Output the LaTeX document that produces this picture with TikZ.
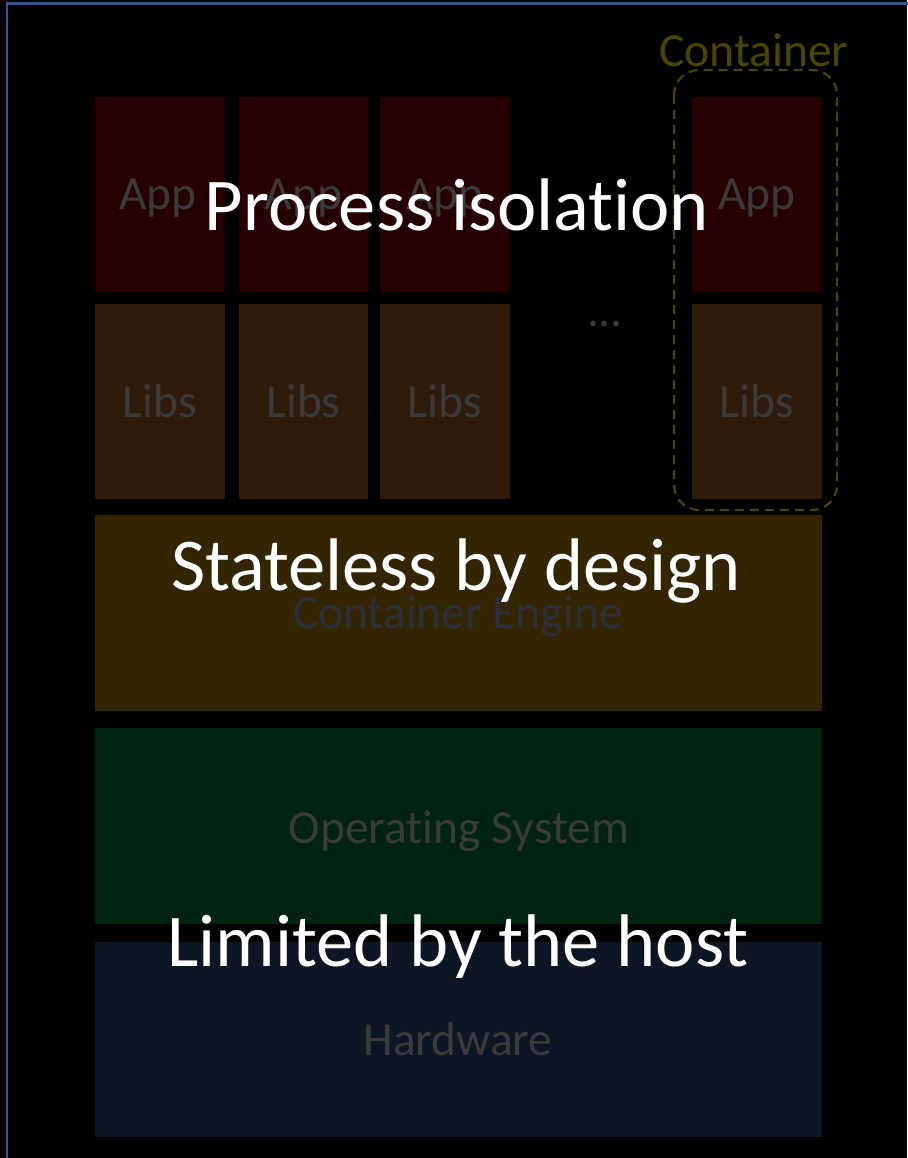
\documentclass[tikz,border=0pt]{standalone}
\usepackage{fontspec}
\setmainfont{Carlito}[Ligatures=NoCommon]
\definecolor{framebl}{HTML}{2F5597}
\definecolor{appc}{HTML}{260000}
\definecolor{libc}{HTML}{2E1B0B}
\definecolor{engc}{HTML}{342501}
\definecolor{osc}{HTML}{012312}
\definecolor{hwc}{HTML}{0E1626}
\definecolor{dimtxt}{HTML}{3A3A3A}
\definecolor{engtxt}{HTML}{2C2F3A}
\definecolor{olive}{HTML}{4A4600}
\begin{document}
\begin{tikzpicture}[x=1pt,y=-1pt,
  layer/.style={fill=#1,draw=none},
  dimlabel/.style={text=dimtxt,font=\fontsize{47.5}{52}\selectfont,anchor=base,inner sep=0pt},
  bigtext/.style={text=white,font=\fontsize{74.5}{82}\selectfont,anchor=base,inner sep=0pt}]
  % page and frame
  \fill[black] (0,0) rectangle (907,1158);
  \useasboundingbox (0,0) rectangle (907,1158);
  \draw[framebl,line width=2.5pt] (7,1160) -- (7,3.5) -- (909,3.5);

  % application column boxes
  \fill[layer=appc] (95,97) rectangle (225,292);
  \fill[layer=appc] (239,97) rectangle (368,292);
  \fill[layer=appc] (380,97) rectangle (510,292);
  \fill[layer=appc] (692,97) rectangle (822,292);
  \fill[layer=libc] (95,304) rectangle (225,499);
  \fill[layer=libc] (239,304) rectangle (368,499);
  \fill[layer=libc] (380,304) rectangle (510,499);
  \fill[layer=libc] (692,304) rectangle (822,499);

  % shared layers
  \fill[layer=engc] (95,515) rectangle (822,711);
  \fill[layer=osc]  (95,728) rectangle (822,924);
  \fill[layer=hwc]  (95,942) rectangle (822,1137);

  % dim labels
  \node[dimlabel] (app1) at (158,210) {App};
  \node[dimlabel] (app2) at (303.5,210) {App};
  \node[dimlabel] (app3) at (445,210) {App};
  \node[dimlabel] (app4) at (757,210) {App};
  \node[dimlabel] (lib1) at (160,417) {Libs};
  \node[dimlabel] (lib2) at (303.5,417) {Libs};
  \node[dimlabel] (lib3) at (445,417) {Libs};
  \node[dimlabel] (lib4) at (757,417) {Libs};
  \node[dimlabel] (dots) at (605,326) {...};
  \node[dimlabel,text=engtxt] (eng) at (458,628) {Container Engine};
  \node[dimlabel] (os) at (459,843) {Operating System};
  \node[dimlabel] (hw) at (458,1055) {Hardware};

  % container outline
  \draw[olive,line width=2.2pt,dash pattern=on 9pt off 6pt,rounded corners=25pt]
    (674,70) rectangle (837,510);
  \node[dimlabel,text=olive] (ctr) at (754,67) {Container};

  % overlay statements
  \node[bigtext] (iso) at (457,230) {Process isolation};
  \node[bigtext] (stateless) at (456,590) {Stateless by design};
  \node[bigtext] (host) at (458,966) {Limited by the host};
\end{tikzpicture}
\end{document}
